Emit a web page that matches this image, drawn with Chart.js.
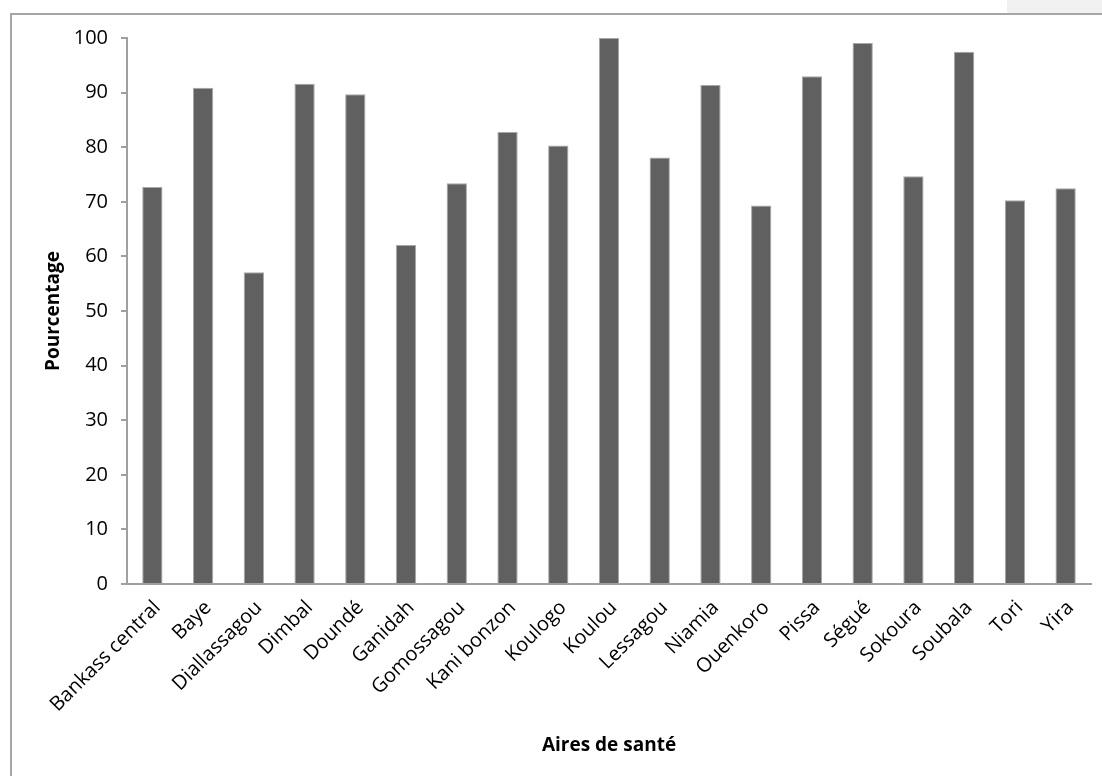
<!DOCTYPE html>
<html>
<head>
<meta charset="utf-8">
<script src="https://cdn.jsdelivr.net/npm/chart.js@4/dist/chart.umd.min.js"></script>
<style>
  html, body { margin: 0; padding: 0; width: 1102px; height: 776px; overflow: hidden; background: #fff; }
  #frame { position: absolute; left: 10px; top: 13px; width: 1110px; height: 790px; border: 2px solid #a6a6a6; box-sizing: border-box; }
  #tab { position: absolute; left: 1007px; top: 0; width: 95px; height: 13px; background: #f0f0f0; }
  #wrap { position: absolute; left: 0; top: 0; width: 1102px; height: 776px; }
</style>
</head>
<body>
<div id="tab"></div>
<div id="frame"></div>
<div id="wrap"><canvas id="c" width="1102" height="776"></canvas></div>
<script>
// Aires de santé et pourcentages
const aires = ["Bankass central", "Baye", "Diallassagou", "Dimbal", "Doundé", "Ganidah", "Gomossagou",
  "Kani bonzon", "Koulogo", "Koulou", "Lessagou", "Niamia", "Ouenkoro", "Pissa", "Ségué",
  "Sokoura", "Soubala", "Tori", "Yira"];
const pourcentages = [72.7, 90.9, 57.1, 91.6, 89.7, 62.1, 73.4, 82.8, 80.3, 100, 78.1, 91.4, 69.3,
  93.0, 99.1, 74.7, 97.5, 70.3, 72.5];
const yMin = 0, yMax = 100, yStep = 10;

const FONT = "'Open Sans', sans-serif";

new Chart(document.getElementById('c'), {
  type: 'bar',
  data: {
    labels: aires,
    datasets: [{
      data: pourcentages,
      backgroundColor: '#606060',
      borderColor: '#a8a8a8',
      borderWidth: 1,
      categoryPercentage: 0.4,
      barPercentage: 1.0
    }]
  },
  options: {
    responsive: false,
    devicePixelRatio: 1,
    animation: false,
    layout: { padding: { top: 38, right: 11, left: 0, bottom: 0 } },
    plugins: { legend: { display: false }, tooltip: { enabled: false } },
    scales: {
      x: {
        grid: { display: false, drawTicks: false },
        border: { display: true, color: '#a0a0a0', width: 2 },
        ticks: {
          autoSkip: false, maxRotation: 45, minRotation: 45,
          color: '#000', padding: 12, labelOffset: 5,
          font: { family: FONT, size: 20 }
        },
        title: {
          display: true, text: 'Aires de santé', color: '#000',
          font: { family: FONT, size: 19, weight: 'bold' },
          padding: { top: 0, bottom: 19 }
        },
        afterFit: s => { s.height = 192; }
      },
      y: {
        min: yMin, max: yMax,
        ticks: { stepSize: yStep, color: '#000', padding: 13, font: { family: FONT, size: 20 } },
        grid: { drawOnChartArea: false, drawTicks: true, tickLength: 6, color: '#a0a0a0', lineWidth: 2 },
        border: { display: true, color: '#a0a0a0', width: 2 },
        title: {
          display: true, text: 'Pourcentage', color: '#000',
          font: { family: FONT, size: 19, weight: 'bold' },
          padding: { top: 42, bottom: 0 }
        },
        afterFit: s => { s.width = 127; }
      }
    }
  }
});
</script>
</body>
</html>
